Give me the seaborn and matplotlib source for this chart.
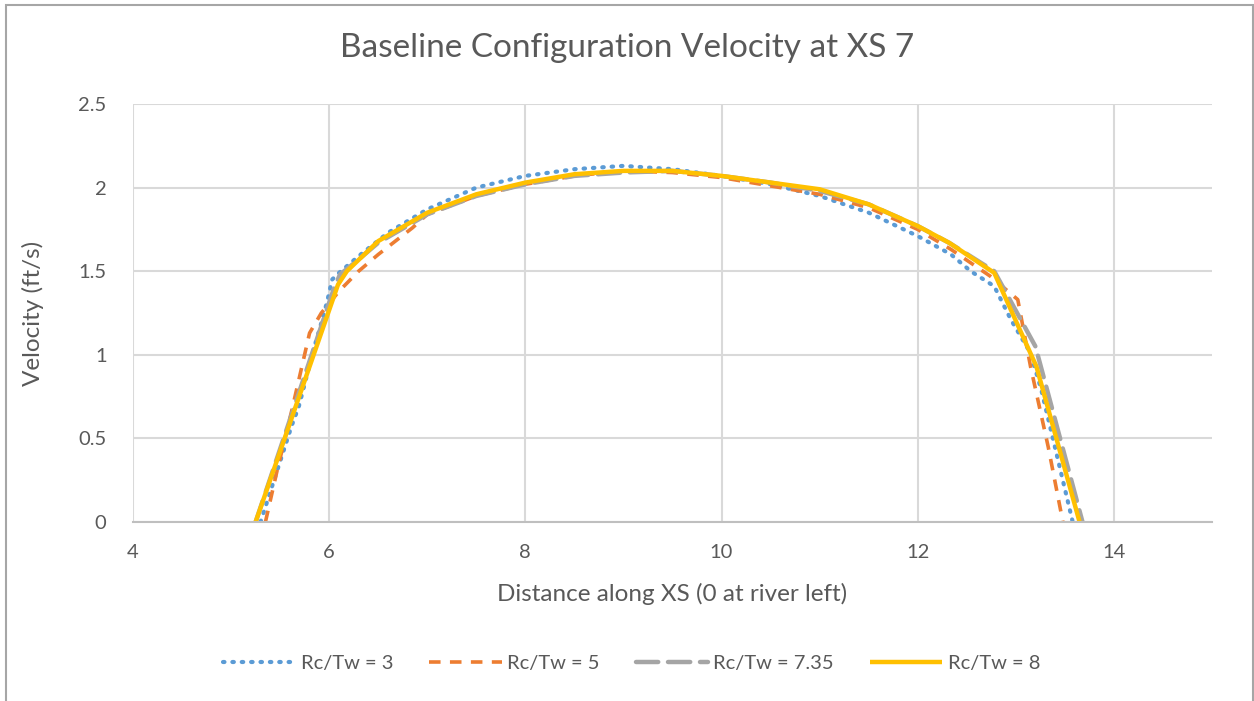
import matplotlib
matplotlib.use("Agg")
import matplotlib.pyplot as plt
from matplotlib.patches import Rectangle
import seaborn as sns
import pandas as pd

# Velocity profiles across XS 7 for each bend radius ratio
x_rc3 = [5.30, 5.62, 5.69, 5.77, 5.84, 5.91, 5.98, 6.03, 6.08, 6.30, 6.60, 7.00, 7.50, 8.00, 8.50,
         9.00, 9.50, 10.00, 10.50, 11.00, 11.50, 12.00, 12.34, 12.54, 12.78, 12.95, 13.15, 13.26,
         13.39, 13.58]
v_rc3 = [0.00, 0.58, 0.69, 0.87, 1.03, 1.17, 1.32, 1.45, 1.48, 1.59, 1.73, 1.87, 2.00, 2.07, 2.11,
         2.13, 2.11, 2.07, 2.02, 1.95, 1.85, 1.71, 1.60, 1.50, 1.41, 1.21, 1.01, 0.79, 0.47, 0.00]

x_rc5 = [5.35, 5.47, 5.62, 5.80, 5.92, 6.10, 6.30, 6.50, 6.85, 7.00, 7.50, 8.00, 8.50, 9.00, 9.50,
         10.00, 10.50, 11.00, 11.50, 12.00, 12.34, 12.74, 13.02, 13.15, 13.33, 13.48]
v_rc5 = [0.00, 0.31, 0.67, 1.13, 1.25, 1.38, 1.50, 1.60, 1.76, 1.84, 1.95, 2.02, 2.07, 2.10, 2.09,
         2.06, 2.01, 1.96, 1.88, 1.75, 1.63, 1.47, 1.33, 0.93, 0.45, 0.00]

x_rc735 = [5.25, 6.05, 6.11, 6.30, 6.50, 7.00, 7.50, 8.00, 8.50, 9.00, 9.50, 10.00, 10.50, 11.00,
           11.50, 12.00, 12.32, 12.78, 13.20, 13.68]
v_rc735 = [0.00, 1.40, 1.48, 1.57, 1.67, 1.84, 1.95, 2.02, 2.07, 2.09, 2.10, 2.07, 2.03, 1.98,
           1.90, 1.77, 1.67, 1.50, 1.05, 0.00]

x_rc8 = [5.25, 6.09, 6.18, 6.50, 7.00, 7.50, 8.00, 8.50, 9.00, 9.50, 10.00, 10.50, 11.00, 11.50,
         12.00, 12.32, 12.78, 13.21, 13.65]
v_rc8 = [0.00, 1.42, 1.50, 1.68, 1.85, 1.96, 2.03, 2.08, 2.10, 2.10, 2.07, 2.03, 1.99, 1.90,
         1.77, 1.67, 1.49, 0.93, 0.00]

series_labels = ["Rc/Tw = 3", "Rc/Tw = 5", "Rc/Tw = 7.35", "Rc/Tw = 8"]
series_x = [x_rc3, x_rc5, x_rc735, x_rc8]
series_v = [v_rc3, v_rc5, v_rc735, v_rc8]

x_ticks = [4, 6, 8, 10, 12, 14]
y_ticks = [0, 0.5, 1, 1.5, 2, 2.5]
y_tick_labels = ["0", "0.5", "1", "1.5", "2", "2.5"]

colors = ["#5B9BD5", "#ED7D31", "#A5A5A5", "#FFC000"]
styles = [
    dict(dashes=(0.35, 1.9), dash_capstyle="round", lw=3.0),
    dict(dashes=(3.2, 2.6), dash_capstyle="butt", lw=2.6),
    dict(dashes=(5.0, 2.2), dash_capstyle="round", lw=3.2),
    dict(dashes=(None, None), dash_capstyle="butt", lw=3.2),
]

sns.set_theme(style="white")
plt.rcParams["font.family"] = ["Lato", "DejaVu Sans"]
text_color = "#595959"

fig = plt.figure(figsize=(12.54, 7.01), dpi=100)
ax = fig.add_axes([133 / 1254, 1 - 522 / 701, (1212 - 133) / 1254, (522 - 104) / 701])

for lbl, xs, vs, c, st in zip(series_labels, series_x, series_v, colors, styles):
    df = pd.DataFrame({"x": xs, "v": vs})
    sns.lineplot(data=df, x="x", y="v", ax=ax, sort=False, estimator=None, color=c,
                 linewidth=st["lw"], label=lbl)
    line = ax.lines[-1]
    if st["dashes"][0] is not None:
        line.set_dashes(st["dashes"])
    line.set_dash_capstyle(st["dash_capstyle"])
    line.set_solid_capstyle("butt")

ax.set_xlim(4, 15)
ax.set_ylim(0, 2.5)
ax.set_xticks(x_ticks)
ax.set_yticks(y_ticks)
ax.set_yticklabels(y_tick_labels)
ax.grid(True, color="#D9D9D9", linewidth=1.5)
ax.set_axisbelow(True)
for side in ["top", "right", "left"]:
    ax.spines[side].set_visible(False)
ax.spines["bottom"].set_color("#BFBFBF")
ax.spines["bottom"].set_linewidth(1.5)
ax.tick_params(axis="both", length=0, labelsize=14.5, labelcolor=text_color)
ax.tick_params(axis="x", pad=16)
ax.tick_params(axis="y", pad=19)

ax.set_xlabel("Distance along XS (0 at river left)", fontsize=17.5, color=text_color, va="center")
ax.set_ylabel("Velocity (ft/s)", fontsize=17.5, color=text_color, va="center")
ax.xaxis.set_label_coords(0.5, (522 - 594) / 418)
ax.yaxis.set_label_coords((33 - 133) / 1079, 0.5)
fig.text(0.5, 1 - 48 / 701, "Baseline Configuration Velocity at XS 7", ha="center", va="center",
         fontsize=24, color=text_color)

leg = ax.legend(loc="center", bbox_to_anchor=(0.5 - 0.038, 0.5 - (663 - 313) / 418), ncol=4,
                frameon=False, fontsize=14.5, handlelength=3.6, columnspacing=1.8,
                handletextpad=0.25)
for t in leg.get_texts():
    t.set_color(text_color)

# Chart frame
fig.add_artist(Rectangle((6 / 1254, -0.05), (1252.5 - 6) / 1254, 1.05 - 5.5 / 701,
                         transform=fig.transFigure, fill=False, edgecolor="#A6A6A6",
                         linewidth=1.5, clip_on=False))

fig.savefig("out.png", dpi=100, facecolor="white")
